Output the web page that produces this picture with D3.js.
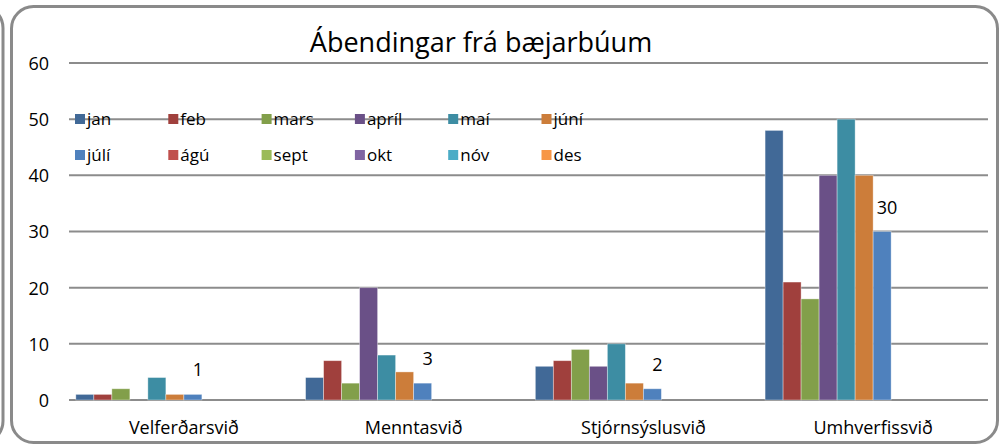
<!DOCTYPE html>
<html>
<head>
<meta charset="utf-8">
<script src="https://cdn.jsdelivr.net/npm/d3@7"></script>
<style>
  body { margin: 0; background: #fff; }
  text { font-family: "Open Sans", sans-serif; fill: #000; }
</style>
</head>
<body>
<div id="chart"></div>
<script>
// Categories (svið) and months
const categories = ["Velferðarsvið", "Menntasvið", "Stjórnsýslusvið", "Umhverfissvið"];
const months = ["jan", "feb", "mars", "apríl", "maí", "júní", "júlí", "ágú", "sept", "okt", "nóv", "des"];
const monthColors = ["#416997", "#a0403d", "#829f4a", "#6a5087", "#3d8da3", "#cc7d3a",
                     "#4f81bd", "#c0504d", "#9bbb59", "#8064a2", "#4bacc6", "#f79646"];

// values per month, in category order
const jan   = [1, 4, 6, 48];
const feb   = [1, 7, 7, 21];
const mars  = [2, 3, 9, 18];
const april = [0, 20, 6, 40];
const mai   = [4, 8, 10, 50];
const juni  = [1, 5, 3, 40];
const juli  = [1, 3, 2, 30];
const agu   = [0, 0, 0, 0];
const sept  = [0, 0, 0, 0];
const okt   = [0, 0, 0, 0];
const nov   = [0, 0, 0, 0];
const des   = [0, 0, 0, 0];
const seriesValues = [jan, feb, mars, april, mai, juni, juli, agu, sept, okt, nov, des];
const labeledSeries = 6; // júlí has data labels

const yTicks = [0, 10, 20, 30, 40, 50, 60];

const W = 1001, H = 446;
const svg = d3.select("#chart").append("svg")
    .attr("width", W)
    .attr("height", H);

// chart frames (neighbouring chart peeking in on the left)
svg.append("rect")
    .attr("x", -985).attr("y", 6)
    .attr("width", 988).attr("height", 437)
    .attr("rx", 22)
    .attr("fill", "none").attr("stroke", "#8a8a8a").attr("stroke-width", 3);

svg.append("rect")
    .attr("x", 11.5).attr("y", 6.5)
    .attr("width", 986).attr("height", 436)
    .attr("rx", 22)
    .attr("fill", "#fff").attr("stroke", "#8a8a8a").attr("stroke-width", 3);

// scales
const x0 = d3.scaleBand()
    .domain(categories)
    .range([69, 988])
    .padding(0);

const x1 = d3.scaleBand()
    .domain(months)
    .range([0, x0.bandwidth()])
    .paddingInner(0)
    .paddingOuter(0.38);

const y = d3.scaleLinear()
    .domain([0, 60])
    .range([400, 63]);

// gridlines
svg.append("g")
    .selectAll("line")
    .data(yTicks)
    .join("line")
    .attr("x1", 69).attr("x2", 988)
    .attr("y1", d => y(d)).attr("y2", d => y(d))
    .attr("stroke", "#8c8c8c")
    .attr("stroke-width", 2);

// y axis labels
svg.append("g")
    .selectAll("text")
    .data(yTicks)
    .join("text")
    .attr("x", 49)
    .attr("y", d => y(d))
    .attr("dy", "0.38em")
    .attr("text-anchor", "end")
    .style("font-size", "18px")
    .text(d => d);

// bars
const groups = svg.append("g")
    .selectAll("g")
    .data(categories)
    .join("g")
    .attr("transform", d => `translate(${x0(d)},0)`);

groups.selectAll("rect")
    .data((c, ci) => months.map((m, mi) => ({ month: m, mi, value: seriesValues[mi][ci] })))
    .join("rect")
    .filter(d => d.value > 0)
    .attr("x", d => x1(d.month))
    .attr("width", x1.bandwidth())
    .attr("y", d => y(d.value))
    .attr("height", d => y(0) - y(d.value))
    .attr("fill", d => monthColors[d.mi])
    .attr("stroke", "rgba(255,255,255,0.45)")
    .attr("stroke-width", 0.8);

// data labels (júlí)
groups.append("text")
    .attr("x", d => x1(months[labeledSeries]) + x1.bandwidth() / 2 + 5)
    .attr("y", (d, i) => y(seriesValues[labeledSeries][i]) - 18)
    .attr("text-anchor", "middle")
    .style("font-size", "18px")
    .text((d, i) => seriesValues[labeledSeries][i]);

// category labels
svg.append("g")
    .selectAll("text")
    .data(categories)
    .join("text")
    .attr("x", d => x0(d) + x0.bandwidth() / 2)
    .attr("y", 434)
    .attr("text-anchor", "middle")
    .style("font-size", "18px")
    .text(d => d);

// title
svg.append("text")
    .attr("x", 481)
    .attr("y", 52)
    .attr("text-anchor", "middle")
    .style("font-size", "27px")
    .text("Ábendingar frá bæjarbúum");

// legend: 2 rows x 6 columns
const legend = svg.append("g")
    .selectAll("g")
    .data(months)
    .join("g")
    .attr("transform", (d, i) => `translate(${75 + (i % 6) * 93.3},${119 + Math.floor(i / 6) * 36})`);

legend.append("rect")
    .attr("x", 0).attr("y", -5)
    .attr("width", 10).attr("height", 10)
    .attr("fill", (d, i) => monthColors[i]);

legend.append("text")
    .attr("x", 12)
    .attr("dy", "0.35em")
    .style("font-size", "17px")
    .text(d => d);
</script>
</body>
</html>
